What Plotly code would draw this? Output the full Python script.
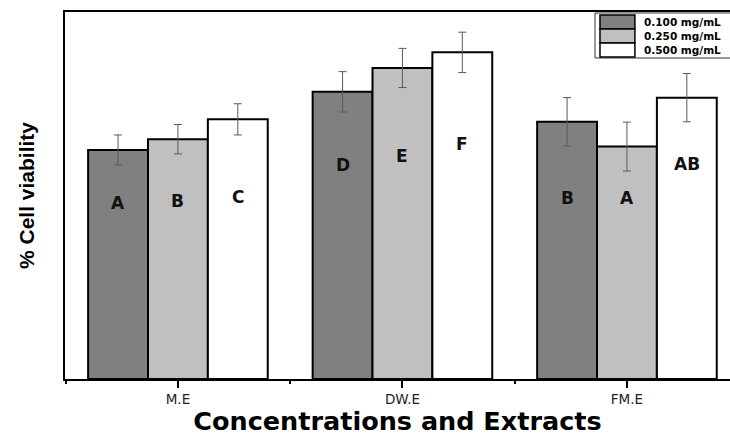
import plotly.graph_objects as go

categories = ["M.E", "DW.E", "FM.E"]
series_names = ["0.100 mg/mL", "0.250 mg/mL", "0.500 mg/mL"]
viability_010 = [74.9, 93.9, 84.1]
viability_025 = [78.4, 101.7, 76.0]
viability_050 = [84.9, 106.8, 92.0]
sd_010 = [4.9, 6.6, 7.9]
sd_025 = [4.8, 6.4, 8.0]
sd_050 = [5.1, 6.6, 7.9]
letters_010 = ["A", "D", "B"]
letters_025 = ["B", "E", "A"]
letters_050 = ["C", "F", "AB"]
label_y_010 = [57.5, 70.0, 59.2]
label_y_025 = [58.2, 72.9, 59.2]
label_y_050 = [59.5, 76.8, 70.3]

colors = ["#808080", "#c0c0c0", "#ffffff"]
values = [viability_010, viability_025, viability_050]
sds = [sd_010, sd_025, sd_050]
letters = [letters_010, letters_025, letters_050]
label_ys = [label_y_010, label_y_025, label_y_050]

xpos = list(range(len(categories)))
bargap = 0.2
bw = (1 - bargap) / len(series_names)

fig = go.Figure()
for i, name in enumerate(series_names):
    fig.add_trace(go.Bar(
        x=xpos, y=values[i], name=name, showlegend=False,
        marker=dict(color=colors[i], line=dict(color="black", width=2)),
        error_y=dict(type="data", array=sds[i], color="#5a5a5a", thickness=1, width=4),
    ))

annotations = []
for i in range(len(series_names)):
    off = (i - (len(series_names) - 1) / 2) * bw
    for j, x in enumerate(xpos):
        annotations.append(dict(
            x=x + off, y=label_ys[i][j], xref="x", yref="y", text=letters[i][j],
            showarrow=False, font=dict(family="DejaVu Sans", size=17, color="#111111", weight="bold"),
        ))

# manual legend (wide swatches like the original)
shapes = [dict(type="rect", xref="paper", yref="paper", x0=0.797, x1=1.02, y0=0.8747, y1=0.9973,
               line=dict(color="#333333", width=1), fillcolor="white", layer="above")]
row_tops = [0.9918, 0.9537, 0.9155]
row_h = 0.0381
for i, name in enumerate(series_names):
    shapes.append(dict(type="rect", xref="paper", yref="paper", x0=0.8045, x1=0.857,
                       y0=row_tops[i] - row_h, y1=row_tops[i],
                       line=dict(color="black", width=1.5), fillcolor=colors[i], layer="above"))
    annotations.append(dict(x=0.8677, y=row_tops[i] - row_h / 2, xref="paper", yref="paper",
                            xanchor="left", yanchor="middle", text=name, showarrow=False,
                            font=dict(family="DejaVu Sans", size=10.5, color="black", weight="bold")))

fig.update_layout(
    width=730, height=436,
    margin=dict(l=65, r=0, t=12, b=57),
    paper_bgcolor="white", plot_bgcolor="white",
    barmode="group", bargap=bargap, bargroupgap=0,
    showlegend=False,
    annotations=annotations, shapes=shapes,
    xaxis=dict(
        range=[-0.503, 2.459], tickmode="array", tickvals=xpos, ticktext=categories,
        showline=True, linecolor="black", linewidth=1.5, mirror=True,
        ticks="outside", ticklen=7, tickcolor="black", tickwidth=1.5,
        minor=dict(tickmode="linear", tick0=0.5, dtick=1, ticks="outside", ticklen=3, tickcolor="black"),
        showgrid=False, zeroline=False,
        tickfont=dict(family="DejaVu Sans", size=13.5, color="#222222"),
        title=dict(text="Concentrations and Extracts", standoff=7,
                   font=dict(family="DejaVu Sans", size=25.5, color="black", weight="bold")),
    ),
    yaxis=dict(
        range=[0, 120], showline=True, linecolor="black", linewidth=1.5,
        showticklabels=False, ticks="", showgrid=False, zeroline=False,
        title=dict(text="% Cell viability", standoff=23,
                   font=dict(family="Liberation Sans", size=21, color="black", weight="bold")),
    ),
)

fig.write_html("out.html")
